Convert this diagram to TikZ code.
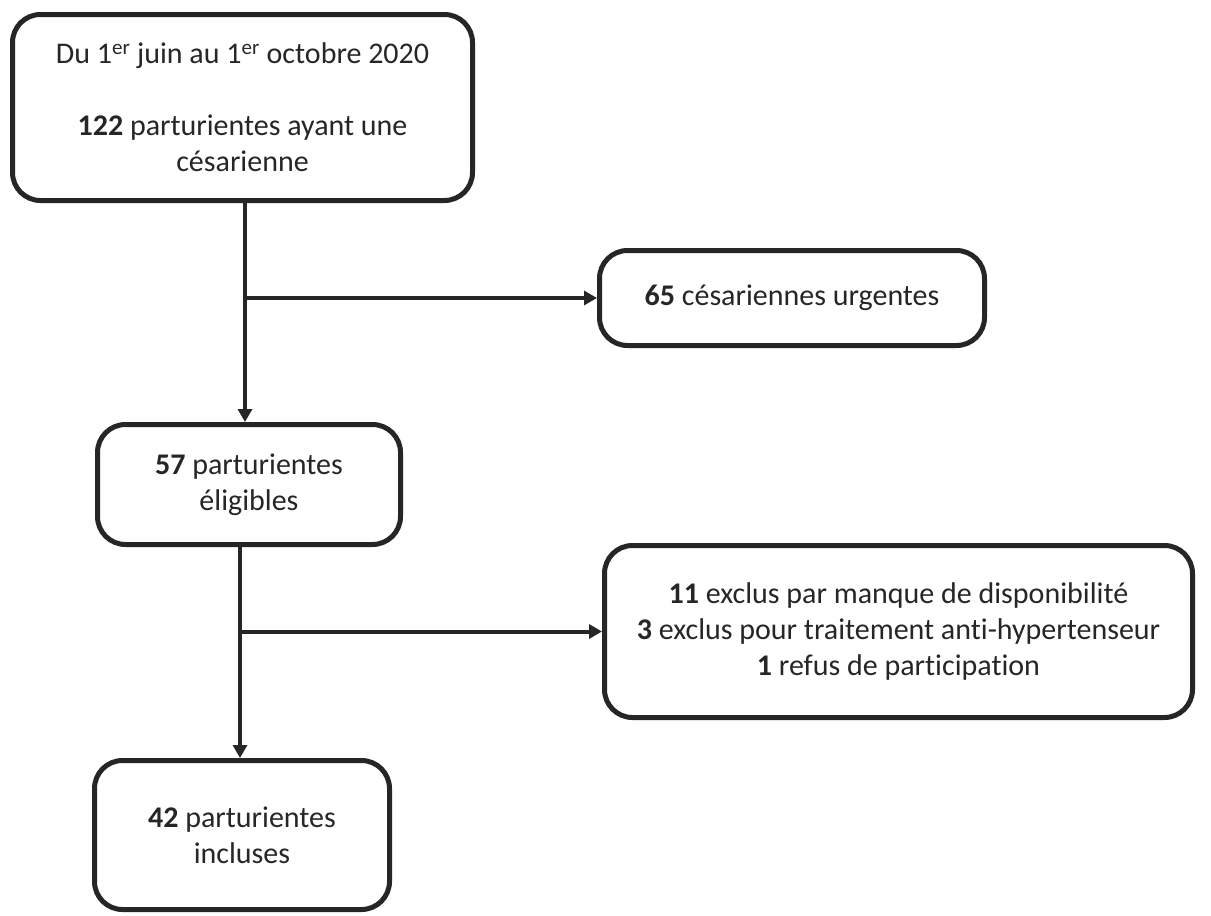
\documentclass[tikz,border=0pt]{standalone}
\usepackage{fontspec}
\setmainfont{Carlito}[Ligatures=NoCommon]
\usepackage{tikz}
\usetikzlibrary{arrows.meta}

\begin{document}
\begin{tikzpicture}[x=1pt,y=-1pt,
    box/.style={draw=black!85,line width=5pt,rounded corners=28pt,
      align=center,font=\fontsize{30}{36}\selectfont,text=black!85},
    link/.style={draw=black!85,line width=4pt},
    arr/.style={link,-{Triangle[length=13pt,width=14pt]}}]
  \useasboundingbox (0,0) rectangle (1211,916);
  %\draw[step=100pt,gray!30] (0,0) grid (1211,916);

  \node[box,minimum width=460pt,minimum height=186pt] (debut) at (242.5,107.5)
  {Du 1\textsuperscript{er} juin au 1\textsuperscript{er} octobre 2020\\[36pt]
   \textbf{122} parturientes ayant une\\ césarienne};
  \node[box,minimum width=385pt,minimum height=95pt] (urgentes) at (792,298)
  {\textbf{65} césariennes urgentes};
  \node[box,minimum width=303pt,minimum height=120pt] (eligibles) at (249,484.5)
  {\textbf{57} parturientes\\ éligibles};
  \node[box,minimum width=588pt,minimum height=172pt] (exclus) at (898.5,631.5)
  {\textbf{11} exclus par manque de disponibilité\\
   \textbf{3} exclus pour traitement anti-hypertenseur\\
   \textbf{1} refus de participation};
  \node[box,minimum width=295pt,minimum height=149pt] (incluses) at (242,835)
  {\textbf{42} parturientes\\ incluses};

  \coordinate (haut1) at (245,203);
  \coordinate (haut2) at (240,547);
  \coordinate (bras1) at (haut1 |- urgentes.west);
  \coordinate (bras2) at (haut2 |- exclus.west);

  \draw[arr] (haut1) -- (haut1 |- eligibles.north);
  \draw[arr] (bras1) -- (urgentes.west);
  \draw[arr] (haut2) -- (haut2 |- incluses.north);
  \draw[arr] (bras2) -- (exclus.west);
\end{tikzpicture}
\end{document}
